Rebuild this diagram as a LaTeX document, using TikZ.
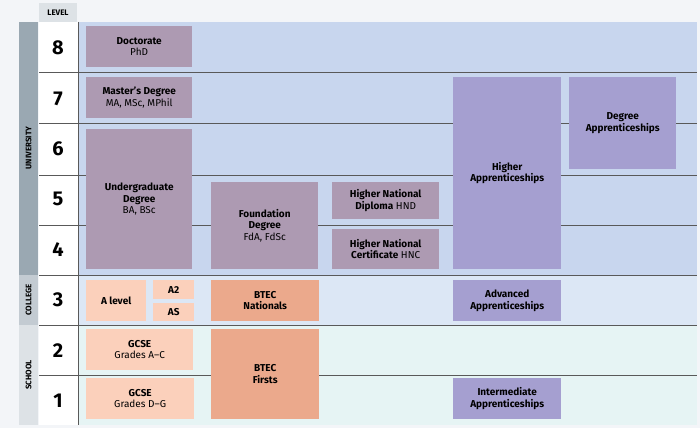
\documentclass[tikz,border=0pt]{standalone}
\usepackage{fontspec}
\setmainfont{Fira Sans}
\usetikzlibrary{positioning}
\definecolor{pagebg}{HTML}{F3F5F8}
\definecolor{unibg}{HTML}{C8D6EE}
\definecolor{colbg}{HTML}{DCE7F5}
\definecolor{schbg}{HTML}{E6F4F4}
\definecolor{mauve}{HTML}{AD9AB2}
\definecolor{lavender}{HTML}{A59FD0}
\definecolor{peach}{HTML}{FBD0BB}
\definecolor{salmon}{HTML}{EBA98C}
\definecolor{sidegray}{HTML}{9AA8B2}
\definecolor{sidelight}{HTML}{C3CBD2}
\definecolor{sidepale}{HTML}{DDE2E6}
\begin{document}
\begin{tikzpicture}[x=1pt,y=-1pt,
    qual/.style={anchor=north west, inner sep=0pt, align=center, font=\fontsize{10}{11.5}\selectfont},
    uni/.style={qual, fill=mauve},
    appr/.style={qual, fill=lavender},
    acad/.style={qual, fill=peach},
    voc/.style={qual, fill=salmon},
    lvl/.style={font=\fontsize{20}{20}\selectfont\bfseries},
    band/.style={rotate=90, font=\fontsize{8}{8}\selectfont\bfseries}
  ]
  \useasboundingbox (0,0) rectangle (700,428);
  \fill[pagebg] (0,0) rectangle (700,428);
  % backgrounds
  \fill[unibg] (78,22) rectangle (697,275);
  \fill[colbg] (78,275) rectangle (697,325);
  \fill[schbg] (78,325) rectangle (697,425);
  \fill[white] (39,22) rectangle (78,425);
  \fill[sidepale] (39,3) rectangle (77,22);
  \node[font=\fontsize{8}{8}\selectfont\bfseries] (lvlhead) at (58,12.5) {LEVEL};
  % side bands
  \fill[sidegray] (19,22) rectangle (38,275);
  \fill[sidelight] (19,275) rectangle (38,325);
  \fill[sidepale] (19,325) rectangle (38,425);
  \node[band] (buni) at (28.5,148) {UNIVERSITY};
  \node[band] (bcol) at (28.5,300) {COLLEGE};
  \node[band] (bsch) at (28.5,375) {SCHOOL};
  % level rows
  \foreach \l [count=\i from 0] in {8,7,6,5,4,3,2,1}
    \node[lvl] (lv\l) at (58,{48+50.4*\i}) {\l};
  \foreach \yy in {72,123,175,225,275,325,375}
    \draw[black!65, line width=0.6pt] (39,\yy) -- (697,\yy);
  \draw[black!65, line width=0.6pt] (78,22) -- (78,425);
  % university
  \node[uni, minimum width=106pt, minimum height=41pt] (phd) at (86,26) {\textbf{Doctorate}\\PhD};
  \node[uni, minimum width=106pt, minimum height=41pt] (masters) at (86,77) {\textbf{Master’s Degree}\\MA, MSc, MPhil};
  \node[uni, minimum width=106pt, minimum height=140pt] (ugrad) at (86,129) {\textbf{Undergraduate}\\\textbf{Degree}\\BA, BSc};
  \node[uni, minimum width=107pt, minimum height=87pt] (found) at (211,182) {\textbf{Foundation}\\\textbf{Degree}\\FdA, FdSc};
  \node[uni, minimum width=107pt, minimum height=37pt] (hnd) at (332,182) {\textbf{Higher National}\\\textbf{Diploma} HND};
  \node[uni, minimum width=107pt, minimum height=40pt] (hnc) at (332,229) {\textbf{Higher National}\\\textbf{Certificate} HNC};
  \node[appr, minimum width=108pt, minimum height=192pt] (higher) at (453,77) {\textbf{Higher}\\\textbf{Apprenticeships}};
  \node[appr, minimum width=107pt, minimum height=92pt] (degapp) at (569,77) {\textbf{Degree}\\\textbf{Apprenticeships}};
  % college
  \node[acad, minimum width=60pt, minimum height=41pt] (alevel) at (86,280) {\textbf{A level}};
  \node[acad, minimum width=41pt, minimum height=19pt] (atwo) at (153,280) {\textbf{A2}};
  \node[acad, minimum width=41pt, minimum height=18pt] (as) at (153,303) {\textbf{AS}};
  \node[voc, minimum width=108pt, minimum height=41pt] (nationals) at (211,280) {\textbf{BTEC}\\\textbf{Nationals}};
  \node[appr, minimum width=108pt, minimum height=41pt] (advanced) at (453,280) {\textbf{Advanced}\\\textbf{Apprenticeships}};
  % school
  \node[acad, minimum width=107pt, minimum height=41pt] (gcseac) at (86,329) {\textbf{GCSE}\\Grades A–C};
  \node[acad, minimum width=108pt, minimum height=41pt] (gcsedg) at (86,378) {\textbf{GCSE}\\Grades D–G};
  \node[voc, minimum width=108pt, minimum height=90pt] (firsts) at (211,329) {\textbf{BTEC}\\\textbf{Firsts}};
  \node[appr, minimum width=108pt, minimum height=41pt] (inter) at (453,378) {\textbf{Intermediate}\\\textbf{Apprenticeships}};
\end{tikzpicture}
\end{document}
